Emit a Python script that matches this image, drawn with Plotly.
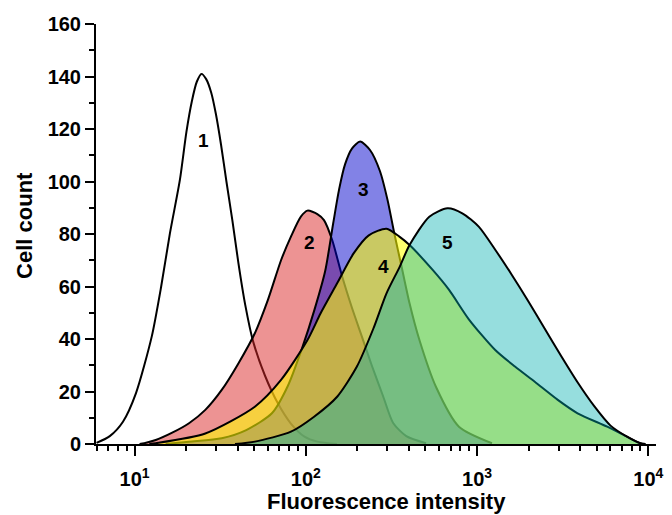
import math
import plotly.graph_objects as go

# Flow cytometry histograms: fluorescence intensity (log scale) vs cell count
x1 = [6.0, 7.17, 8.56, 10.2, 12.6, 14.3, 16.1, 18.4, 20.1, 21.6, 23.1, 24.6, 26.2, 28.0,
      29.9, 32.0, 34.4, 37.3, 40.4, 44.3, 49.3, 57.8, 68.7, 81.6, 98.3, 116.8, 152]
y1 = [0.4, 3, 8.5, 19.4, 40.9, 59.9, 80.3, 100.6, 119, 130.5, 138, 141, 139, 134,
      125.5, 114, 100, 85, 69, 53, 39, 26, 15.5, 7.9, 2.8, 0.9, 0]

x2 = [10.7, 11.4, 13.3, 16.6, 20.8, 25.9, 32.3, 40.4, 50.4, 60.1, 71.7, 81.9, 93.6, 102.3,
      116.8, 127.7, 142.6, 162.8, 185.8, 212.4, 242.6, 283.5, 323.7, 386.3, 503.8]
y2 = [0, 0.3, 1.5, 4.3, 7.9, 13, 20.6, 30.7, 42.2, 54.9, 70, 79, 86.6, 88.9,
      87.6, 85.3, 77.7, 64, 52, 41, 30, 18, 8, 3, 0.3]

x3 = [15.2, 20.8, 32.3, 44.9, 63.4, 78.4, 95.7, 112.2, 129.9, 144.5, 156.5, 169.5, 186.0,
      207.7, 237.1, 270.9, 300.1, 329.3, 361.4, 403.5, 460.9, 575.4, 784, 1222]
y3 = [0, 0.9, 2.2, 5.3, 11.7, 22, 37, 51, 66, 84, 97, 106.5, 112.5,
      115.2, 112, 104, 93, 80, 68, 53.6, 39.6, 21.8, 6.6, 0.3]

x4 = [12.2, 13.3, 25.9, 50.4, 71.7, 102.3, 122.1, 152.4, 190.2, 233.2, 296, 352,
      403.5, 550.7, 686.7, 895.6, 1277, 1665, 2173, 2961, 3863, 5754, 7505, 8970, 9623]
y4 = [0, 0.3, 4, 14.2, 24.4, 39.6, 49.8, 61.2, 72.6, 79.5, 82, 79,
      75.8, 66.3, 58.7, 47.5, 35.8, 29.5, 23.7, 16.8, 11.7, 6.6, 2.8, 0.3, 0]

x5 = [38.6, 50.4, 81.9, 111.8, 152.4, 198.8, 248.2, 296, 353.4, 403.5, 526.3, 672.2,
      820.4, 1023, 1277, 1594, 1988, 2481, 3098, 3863, 4822, 6019, 7505, 8970, 9623]
y5 = [0, 0.9, 4.7, 10.4, 18, 29.5, 44, 57.4, 67.5, 75.8, 86.6, 89.8,
      87.9, 82.8, 74, 64.5, 54.5, 44, 33.5, 23.5, 14.5, 7, 2.8, 0.3, 0]

fills = [None, "rgba(220,40,40,0.5)", "rgba(0,0,204,0.49)",
         "rgba(255,255,0,0.57)", "rgba(0,175,175,0.41)"]
series = [(x1, y1), (x2, y2), (x3, y3), (x4, y4), (x5, y5)]

# curve numbers and where they sit (intensity, count)
label_text = ["1", "2", "3", "4", "5"]
label_x = [25.4, 105, 218, 284.5, 675]
label_y = [115.8, 76.6, 96.8, 67.8, 76.6]

FONT = "Liberation Sans, Arial, sans-serif"

fig = go.Figure()
for (xs, ys), fc in zip(series, fills):
    fig.add_trace(go.Scatter(
        x=xs, y=ys, mode="lines",
        line=dict(color="black", width=2, shape="spline", smoothing=0.7),
        fill="tozeroy" if fc else "none",
        fillcolor=fc,
        hoverinfo="skip", showlegend=False,
    ))

for t, lx, ly in zip(label_text, label_x, label_y):
    fig.add_annotation(x=math.log10(lx), y=ly, text=t, showarrow=False,
                       font=dict(family=FONT, size=19, color="black", weight="bold"))

# axis titles
title_font = dict(family=FONT, size=22, color="black", weight="bold")
fig.add_annotation(xref="paper", yref="paper", x=0.5185, y=-0.137,
                   xanchor="center", yanchor="middle", showarrow=False,
                   text="Fluorescence intensity", font=title_font)
fig.add_annotation(xref="paper", yref="paper", x=-0.129, y=0.521,
                   xanchor="center", yanchor="middle", showarrow=False, textangle=-90,
                   text="Cell count", font=title_font)

tick_font = dict(family=FONT, size=20, color="black", weight="bold")

fig.update_xaxes(
    type="log", range=[0.775, 4.045],
    tickvals=[10, 100, 1000, 10000],
    ticktext=["10<sup>1</sup>", "10<sup>2</sup>", "10<sup>3</sup>", "10<sup>4</sup>"],
    ticks="outside", ticklen=10, tickwidth=2, tickcolor="black",
    minor=dict(ticks="outside", ticklen=5, tickwidth=2, tickcolor="black", dtick="D1"),
    showline=True, linecolor="black", linewidth=2,
    showgrid=False, zeroline=False,
    tickfont=tick_font, ticklabelstandoff=6,
)
fig.update_yaxes(
    range=[0, 160], dtick=20,
    ticks="outside", ticklen=9, tickwidth=2, tickcolor="black",
    minor=dict(ticks="outside", ticklen=5, tickwidth=2, tickcolor="black", dtick=10),
    showline=True, linecolor="black", linewidth=2,
    showgrid=False, zeroline=False,
    tickfont=tick_font,
)
fig.update_layout(
    width=672, height=515,
    margin=dict(l=96, r=9, t=24, b=71),
    plot_bgcolor="white", paper_bgcolor="white",
)
fig.write_html("out.html")
